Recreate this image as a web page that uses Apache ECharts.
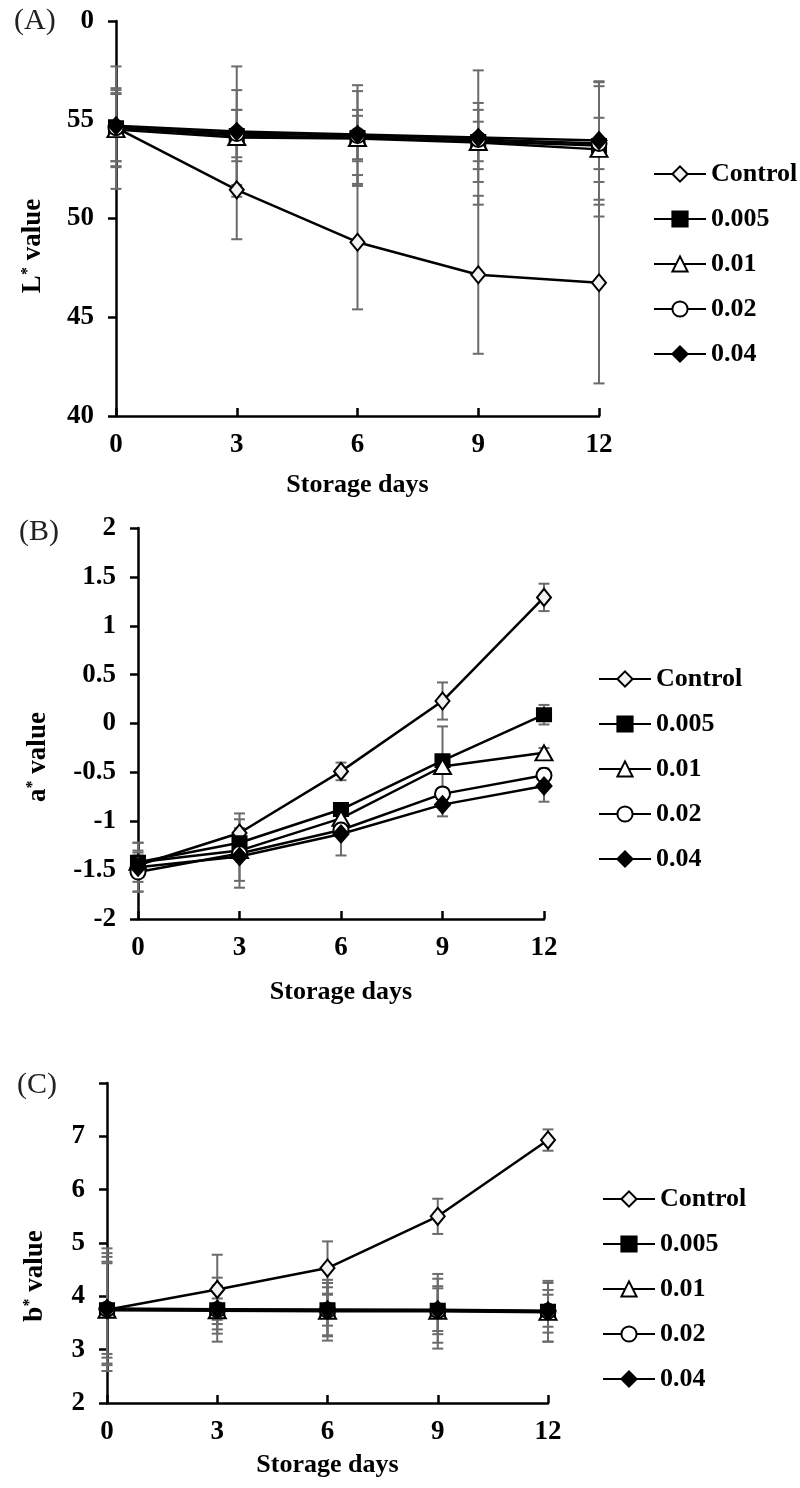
<!DOCTYPE html>
<html>
<head>
<meta charset="utf-8">
<script src="https://cdn.jsdelivr.net/npm/echarts@6/dist/echarts.min.js"></script>
<style>
  html, body { margin: 0; padding: 0; background: #fff; }
  #chart { width: 800px; height: 1488px; }
</style>
</head>
<body>
<div id="chart"></div>
<script>
// storage days (x axis)
const days = [0, 3, 6, 9, 12];
const names = ['Control', '0.005', '0.01', '0.02', '0.04'];

// (A) L* value, means and error
const L_control = [54.6, 51.45, 48.8, 47.15, 46.75];
const L_control_err = [3.1, 2.5, 3.4, 4.0, 5.1];
const L_005 = [54.6, 54.2, 54.1, 53.9, 53.7];
const L_005_err = [1.7, 1.3, 1.1, 1.0, 3.0];
const L_01 = [54.5, 54.1, 54.05, 53.85, 53.5];
const L_01_err = [1.85, 2.4, 2.4, 2.0, 3.4];
const L_02 = [54.6, 54.3, 54.2, 54.0, 53.8];
const L_02_err = [2.0, 1.2, 1.3, 1.5, 1.3];
const L_04 = [54.7, 54.4, 54.25, 54.1, 53.95];
const L_04_err = [1.8, 3.3, 2.5, 3.4, 3.0];

// (B) a* value
const a_control = [-1.45, -1.12, -0.49, 0.23, 1.29];
const a_control_err = [0.1, 0.2, 0.09, 0.19, 0.14];
const a_005 = [-1.42, -1.22, -0.88, -0.38, 0.09];
const a_005_err = [0.12, 0.15, 0.06, 0.35, 0.1];
const a_01 = [-1.42, -1.3, -0.97, -0.44, -0.3];
const a_01_err = [0.2, 0.05, 0.05, 0.05, 0.05];
const a_02 = [-1.52, -1.33, -1.09, -0.72, -0.53];
const a_02_err = [0.2, 0.35, 0.05, 0.06, 0.07];
const a_04 = [-1.47, -1.36, -1.13, -0.83, -0.64];
const a_04_err = [0.25, 0.25, 0.22, 0.12, 0.16];

// (C) b* value
const b_control = [3.75, 4.13, 4.53, 5.5, 6.93];
const b_control_err = [1.15, 0.65, 0.5, 0.33, 0.2];
const b_005 = [3.75, 3.75, 3.75, 3.74, 3.72];
const b_005_err = [0.9, 0.45, 0.5, 0.45, 0.4];
const b_01 = [3.74, 3.73, 3.72, 3.72, 3.7];
const b_01_err = [1.0, 0.35, 0.45, 0.7, 0.55];
const b_02 = [3.76, 3.75, 3.74, 3.73, 3.72];
const b_02_err = [1.05, 0.6, 0.57, 0.6, 0.57];
const b_04 = [3.77, 3.76, 3.75, 3.75, 3.73];
const b_04_err = [0.85, 0.2, 0.3, 0.4, 0.3];

const FONT = '"Liberation Serif", "Times New Roman", serif';

const markers = [
  { symbol: 'diamond', size: [14, 17], fill: '#f2f2f2' },
  { symbol: 'rect', size: [14, 13], fill: '#000' },
  { symbol: 'triangle', size: [17, 15], fill: '#fff' },
  { symbol: 'circle', size: 15, fill: '#fff' },
  { symbol: 'diamond', size: [15, 17], fill: '#000' }
];

const panels = [
  {
    means: [L_control, L_005, L_01, L_02, L_04],
    errs: [L_control_err, L_005_err, L_01_err, L_02_err, L_04_err],
    grid: { left: 116, top: 21, width: 483, height: 395 },
    y: { min: 40, max: 60, interval: 5 },
    nameGap: 56,
    legendTop: 161, legendLeft: 653
  },
  {
    means: [a_control, a_005, a_01, a_02, a_04],
    errs: [a_control_err, a_005_err, a_01_err, a_02_err, a_04_err],
    grid: { left: 138, top: 528, width: 406, height: 391 },
    y: { min: -2, max: 2, interval: 0.5 },
    nameGap: 60,
    legendTop: 666, legendLeft: 598
  },
  {
    means: [b_control, b_005, b_01, b_02, b_04],
    errs: [b_control_err, b_005_err, b_01_err, b_02_err, b_04_err],
    grid: { left: 107, top: 1083, width: 441, height: 320 },
    y: { min: 2, max: 8, interval: 1 },
    nameGap: 49,
    legendTop: 1186, legendLeft: 602
  }
];

function errorBarRender(params, api) {
  const x = api.value(0);
  const top = api.coord([x, api.value(2)]);
  const bot = api.coord([x, api.value(1)]);
  const w = 5.5;
  const style = { stroke: '#6b6b6b', lineWidth: 2, fill: null };
  return {
    type: 'group',
    children: [
      { type: 'line', shape: { x1: top[0], y1: top[1], x2: bot[0], y2: bot[1] }, style: style },
      { type: 'line', shape: { x1: top[0] - w, y1: top[1], x2: top[0] + w, y2: top[1] }, style: style },
      { type: 'line', shape: { x1: bot[0] - w, y1: bot[1], x2: bot[0] + w, y2: bot[1] }, style: style }
    ]
  };
}

const grids = [], xAxes = [], yAxes = [], series = [], legends = [];

panels.forEach(function (p, pi) {
  grids.push(p.grid);
  xAxes.push({
    type: 'value', gridIndex: pi, min: 0, max: 12, interval: 3,
    name: 'Storage days', nameLocation: 'middle', nameGap: p.nameGap,
    nameTextStyle: { fontFamily: FONT, fontWeight: 'bold', fontSize: 26, color: '#000' },
    axisLine: { onZero: false, lineStyle: { color: '#000', width: 2.5 } },
    axisTick: { inside: true, length: 8, lineStyle: { color: '#000', width: 2.5 } },
    axisLabel: { fontFamily: FONT, fontWeight: 'bold', fontSize: 27, color: '#000', margin: 16 },
    splitLine: { show: false }
  });
  yAxes.push({
    type: 'value', gridIndex: pi, min: p.y.min, max: p.y.max, interval: p.y.interval,
    axisLine: { show: true, onZero: false, lineStyle: { color: '#000', width: 2.5 } },
    axisTick: { show: true, length: 8, lineStyle: { color: '#000', width: 2.5 } },
    axisLabel: {
      fontFamily: FONT, fontWeight: 'bold', fontSize: 27, color: '#000', margin: 22,
      formatter: function (v) {
        if (pi === 0 && v === 60) return '0';
        if (pi === 2 && v === 8) return '';
        return String(v);
      }
    },
    splitLine: { show: false }
  });

  p.means.forEach(function (m, si) {
    series.push({
      type: 'custom', xAxisIndex: pi, yAxisIndex: pi, z: 1, silent: true,
      renderItem: errorBarRender,
      data: days.map(function (d, k) { return [d, m[k] - p.errs[si][k], m[k] + p.errs[si][k]]; })
    });
  });
  p.means.forEach(function (m, si) {
    const mk = markers[si];
    series.push({
      name: names[si], type: 'line', xAxisIndex: pi, yAxisIndex: pi, z: 3 + si,
      symbol: mk.symbol, symbolSize: mk.size,
      lineStyle: { color: '#000', width: 2.5 },
      itemStyle: { color: mk.fill, borderColor: '#000', borderWidth: 2 },
      data: days.map(function (d, k) { return [d, m[k]]; })
    });
  });

  legends.push({
    orient: 'vertical', left: p.legendLeft, top: p.legendTop,
    itemWidth: 52, itemHeight: 19, itemGap: 19, padding: 0,
    selectedMode: false,
    textStyle: { fontFamily: FONT, fontWeight: 'bold', fontSize: 26, color: '#000', lineHeight: 26 },
    data: names
  });
});

function yName(letter, x, y) {
  return {
    type: 'text', x: x, y: y, rotation: Math.PI / 2,
    style: {
      text: '{m|' + letter + '}{s|*}{m| value}',
      align: 'center', verticalAlign: 'middle',
      rich: {
        m: { fontFamily: FONT, fontWeight: 'bold', fontSize: 27, fill: '#000' },
        s: { fontFamily: FONT, fontWeight: 'bold', fontSize: 16, fill: '#000', verticalAlign: 'top' }
      }
    }
  };
}

function panelLabel(t, x, y) {
  return {
    type: 'text', x: x, y: y,
    style: { text: t, fontFamily: FONT, fontSize: 30, fill: '#222', align: 'left', verticalAlign: 'middle' }
  };
}

const chart = echarts.init(document.getElementById('chart'));
chart.setOption({
  backgroundColor: '#fff',
  animation: false,
  grid: grids,
  xAxis: xAxes,
  yAxis: yAxes,
  legend: legends,
  series: series,
  graphic: [
    panelLabel('(A)', 14, 21),
    panelLabel('(B)', 19, 532),
    panelLabel('(C)', 17, 1085),
    yName('L', 33, 246),
    yName('a', 38, 757),
    yName('b', 35, 1276)
  ]
});
</script>
</body>
</html>
